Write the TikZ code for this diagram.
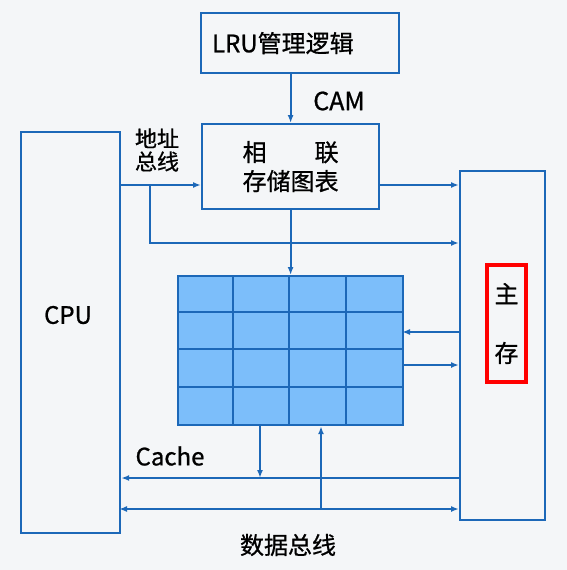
\documentclass[tikz,border=0pt]{standalone}
\usepackage{fontspec}
\setmainfont{Noto Sans CJK SC}[FakeBold=0.8]
\usetikzlibrary{arrows.meta}
\definecolor{lineblue}{RGB}{28,104,184}
\definecolor{cellblue}{RGB}{124,190,250}
\definecolor{bgcol}{RGB}{244,246,248}

\begin{document}
\begin{tikzpicture}[x=1pt, y=-1pt, >={Latex[length=8pt,width=6pt]}]
        \tikzstyle{every node}=[font=\fontsize{24}{29}\selectfont, inner sep=0pt]
        \tikzstyle{box}=[draw=lineblue, line width=2.2pt, anchor=north west]
        \tikzstyle{bus}=[draw=lineblue, line width=2pt]
        \fill[bgcol] (0,0) rectangle (567,570);
        % boxes
        \node [box, minimum height=60pt, text width=176pt, inner xsep=11pt, align=left] (lru) at (200,12) {LRU管理逻辑};
        \node [font=\fontsize{25}{29}\selectfont] (cam) at (339,101) {CAM};
        \node [box, minimum width=177pt, minimum height=85pt, align=center] (assoc) at (201,123) {相\hspace{2em}联\\存储图表};
        \node [font=\fontsize{22}{23}\selectfont, align=center] (addr) at (157,150) {地址\\总线};
        \node [box, minimum width=99pt, minimum height=401pt] (cpu) at (20,131) {};
        \node (cputext) at (68,315) {CPU};
        \node [box, minimum width=85pt, minimum height=349pt] (mem) at (459,170) {};
        \node [draw=red, line width=4pt, anchor=north west, minimum width=39pt, minimum height=117pt, align=center] (mainmem) at (485,263) {主\\[30pt]存};
        \node [box, fill=cellblue, minimum width=225pt, minimum height=149pt] (grid) at (177,275) {};
        \foreach \x in {233,289,346} \draw[bus] (\x,275) -- (\x,424);
        \foreach \y in {312,349,387} \draw[bus] (177,\y) -- (402,\y);
        \node (cachetext) at (170,456) {Cache};
        \node (datatext) at (288,545) {数据总线};
        % connectors
        \coordinate (abus) at (119,185);
        \coordinate (abr) at (150,185);
        \coordinate (abr2) at (150,243);
        \coordinate (rin) at (402,332);
        \coordinate (rout) at (402,365);
        \coordinate (b1) at (459,478);
        \coordinate (b2) at (119,509);
        \coordinate (gd) at (260,478);
        \coordinate (gu) at (321,509);
        \draw[bus,->] (assoc.north |- lru.south) -- (assoc.north);
        \draw[bus,->] (assoc.south) -- (grid.north);
        \draw[bus,->] (abus) -- (abus -| assoc.west);
        \draw[bus,->] (abr) -- (abr2) -- (abr2 -| mem.west);
        \draw[bus,->] (assoc.east |- abus) -- (mem.west |- abus);
        \draw[bus,->] (mem.west |- rin) -- (rin);
        \draw[bus,->] (rout) -- (mem.west |- rout);
        \draw[bus,->] (b1) -- (b1 -| cpu.east);
        \draw[bus,->] (grid.south -| gd) -- (gd);
        \draw[bus,<->] (b2) -- (b2 -| mem.west);
        \draw[bus,->] (gu) -- (grid.south -| gu);
    \end{tikzpicture}
\end{document}
